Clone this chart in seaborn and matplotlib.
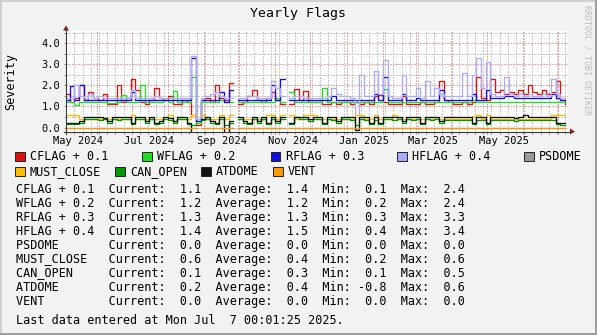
import numpy as np
import pandas as pd
import matplotlib
matplotlib.use("Agg")
import matplotlib.pyplot as plt
import matplotlib.dates as mdates
from matplotlib.ticker import FixedLocator
from matplotlib.patches import Rectangle, Polygon
import seaborn as sns

N = np.nan

# ---- data: one sample every 4 days (NaN = no data) ----
dates = pd.date_range("2024-05-05", periods=108, freq="4D")

cflag = [1.6, 1.2, 1.4, 2.0, 1.3, 1.7, 1.4, 1.3, 1.6, 1.1, 1.1, 2.0,
         1.2, 1.4, 2.3, 1.8, 1.2, 1.1, 1.3, 1.9, 1.4, 1.3, 1.5, 1.1,
         1.1, 1.3, 1.2, 0.6, 0.1, 1.3, 1.4, 1.2, 2.0, 1.4, 1.3, 2.1,
         N, 1.1, 1.2, 1.5, 1.8, 1.3, 1.2, 1.4, 1.7, 1.3, 1.1, N,
         1.1, 1.85, 1.3, 1.75, 1.2, 1.2, 1.2, 1.1, 1.1, 1.2, 1.1, 1.2,
         1.2, 1.1, 1.2, 1.1, 1.2, 1.1, 1.5, 1.55, 1.2, 1.1, 1.1, 1.1,
         1.5, 1.1, 1.1, 1.1, 1.2, 1.1, 1.1, 1.2, 2.2, 1.3, 1.2, 1.1,
         1.1, 1.2, 1.1, 1.2, 2.4, 1.4, 1.3, 2.3, 1.7, 1.8, 1.6, 1.7,
         1.6, 1.8, 1.6, 2.0, 1.7, 1.6, 1.8, 1.6, 1.7, 2.2, 1.3, 1.1]

wflag = [1.2, 1.2, 1.05, 1.2, 1.2, 1.2, 1.2, 1.2, 1.2, 1.15, 1.15, 1.2,
         1.55, 1.2, 1.2, 1.2, 2.0, 1.2, 1.2, 1.2, 1.2, 1.3, 1.2, 1.75,
         1.2, 1.2, 1.2, 2.4, 0.2, 1.2, 1.2, 1.2, 1.2, 1.3, 1.2, 1.2,
         N, 1.2, 1.2, 1.2, 1.2, 1.2, 1.2, 1.2, 1.2, 1.4, 1.2, N,
         1.7, 1.2, 1.2, 1.2, 1.2, 1.2, 1.2, 1.9, 1.2, 1.2, 1.2, 1.2,
         1.2, 1.2, 1.2, 1.2, 1.2, 1.2, 1.2, 1.2, 1.85, 1.2, 1.2, 1.2,
         1.2, 1.2, 1.2, 1.2, 1.2, 1.2, 1.2, 1.2, 1.2, 1.2, 1.2, 1.2,
         1.2, 1.2, 1.2, 1.3, 1.2, 1.2, 1.2, 1.2, 1.2, 1.2, 1.2, 1.2,
         1.2, 1.2, 1.2, 1.2, 1.2, 1.2, 1.2, 1.2, 1.2, 1.2, 1.2, 1.2]

rflag = [1.3, 1.95, 1.3, 2.0, 1.3, 1.3, 1.3, 1.3, 1.3, 1.3, 1.3, 1.3,
         1.3, 1.3, 1.7, 1.3, 1.3, 1.3, 1.3, 1.3, 1.3, 1.3, 1.3, 1.3,
         1.3, 1.3, 1.3, 3.3, 0.3, 1.3, 1.3, 1.3, 1.3, 1.7, 1.2, 1.8,
         N, 1.3, 1.3, 1.3, 1.3, 1.3, 1.3, 1.3, 2.0, 1.3, 2.3, N,
         1.3, 1.3, 1.3, 1.3, 1.3, 1.3, 1.3, 1.3, 1.3, 1.5, 1.3, 1.3,
         1.3, 1.3, 1.3, 1.3, 1.3, 1.3, 1.6, 1.3, 2.4, 1.3, 1.3, 1.3,
         1.6, 1.3, 1.3, 1.4, 1.3, 1.3, 1.3, 1.3, 1.8, 1.3, 1.3, 1.3,
         1.3, 1.3, 1.3, 1.6, 1.3, 1.3, 1.8, 1.4, 1.4, 1.4, 1.5, 1.5,
         1.4, 1.4, 1.4, 1.4, 1.4, 1.4, 1.4, 1.4, 1.6, 1.4, 1.3, 1.3]

hflag = [1.4, 1.4, 2.0, 1.5, 1.4, 1.6, 1.4, 1.5, 1.4, 1.4, 1.4, 1.4,
         1.4, 1.4, 1.8, 1.4, 1.4, 1.4, 1.4, 1.5, 1.4, 1.4, 1.4, 1.4,
         1.4, 1.4, 1.4, 3.4, 0.4, 1.4, 1.5, 1.6, 1.7, 1.5, 1.4, 1.4,
         N, 1.4, 1.4, 1.5, 1.5, 1.4, 1.4, 1.4, 2.2, 1.9, 1.5, N,
         1.4, 1.5, 1.5, 1.4, 1.4, 1.4, 1.4, 1.4, 1.5, 1.9, 1.6, 1.5,
         1.5, 1.4, 0.6, 2.5, 1.5, 1.5, 2.7, 1.6, 3.2, 1.5, 1.4, 1.4,
         2.5, 1.5, 1.5, 1.9, 1.4, 2.2, 1.5, 1.9, 1.6, 1.5, 1.5, 1.5,
         1.5, 2.6, 1.5, 2.5, 3.3, 1.9, 3.1, 1.6, 1.5, 1.5, 2.4, 1.6,
         1.5, 1.6, 1.5, 1.6, 1.5, 1.5, 1.6, 1.5, 2.3, 1.6, 1.4, 1.4]

psdome = [0.0, 0.0, 0.0, 0.0, 0.0, 0.0, 0.0, 0.0, 0.0, 0.0, 0.0, 0.0,
          0.0, 0.0, 0.0, 0.0, 0.0, 0.0, 0.0, 0.0, 0.0, 0.0, 0.0, 0.0,
          0.0, 0.0, 0.0, 0.0, N, 0.0, 0.0, 0.0, 0.0, 0.0, 0.0, 0.0,
          N, 0.0, 0.0, 0.0, 0.0, 0.0, 0.0, 0.0, 0.0, 0.0, 0.0, N,
          0.0, 0.0, 0.0, 0.0, 0.0, 0.0, 0.0, 0.0, 0.0, 0.0, 0.0, 0.0,
          0.0, 0.0, 0.0, 0.0, 0.0, 0.0, 0.0, 0.0, 0.0, 0.0, 0.0, 0.0,
          0.0, 0.0, 0.0, 0.0, 0.0, 0.0, 0.0, 0.0, 0.0, 0.0, 0.0, 0.0,
          0.0, 0.0, 0.0, 0.0, 0.0, 0.0, 0.0, 0.0, 0.0, 0.0, 0.0, 0.0,
          0.0, 0.0, 0.0, 0.0, 0.0, 0.0, 0.0, 0.0, 0.0, 0.0, 0.0, 0.0]

must_close = [0.6, 0.6, 0.6, 0.4, 0.4, 0.4, 0.4, 0.4, 0.4, 0.4, 0.4, 0.4,
              0.4, 0.4, 0.6, 0.4, 0.4, 0.4, 0.4, 0.4, 0.4, 0.4, 0.6, 0.2,
              0.4, 0.4, 0.4, 0.6, N, 0.6, 0.4, 0.4, 0.4, 0.6, 0.4, 0.6,
              N, 0.4, 0.4, 0.4, 0.4, 0.4, 0.4, 0.6, 0.6, 0.4, 0.6, N,
              0.6, 0.4, 0.4, 0.6, 0.6, 0.6, 0.4, 0.4, 0.4, 0.4, 0.4, 0.4,
              0.4, 0.4, 0.6, 0.6, 0.4, 0.4, 0.6, 0.4, 0.4, 0.4, 0.6, 0.4,
              0.4, 0.4, 0.4, 0.4, 0.4, 0.4, 0.4, 0.4, 0.4, 0.4, 0.4, 0.4,
              0.4, 0.4, 0.4, 0.55, 0.6, 0.4, 0.6, 0.4, 0.4, 0.4, 0.4, 0.4,
              0.4, 0.4, 0.4, 0.4, 0.4, 0.4, 0.4, 0.4, 0.6, 0.6, 0.6, 0.6]

can_open = [0.15, 0.15, 0.15, 0.2, 0.4, 0.4, 0.4, 0.35, 0.4, 0.2, 0.4, 0.35,
            0.4, 0.4, 0.15, 0.4, 0.4, 0.2, 0.4, 0.15, 0.2, 0.4, 0.35, 0.2,
            0.4, 0.4, 0.15, 0.1, N, 0.35, 0.4, 0.2, 0.15, 0.4, 0.1, 0.2,
            N, 0.4, 0.2, 0.15, 0.4, 0.2, 0.4, 0.15, 0.4, 0.2, 0.4, N,
            0.15, 0.5, 0.4, 0.4, 0.3, 0.4, 0.4, 0.15, 0.4, 0.35, 0.2, 0.4,
            0.4, 0.35, 0.1, 0.4, 0.35, 0.15, 0.35, 0.15, 0.4, 0.4, 0.35, 0.4,
            0.2, 0.4, 0.35, 0.4, 0.15, 0.4, 0.35, 0.4, 0.2, 0.35, 0.35, 0.35,
            0.35, 0.35, 0.35, 0.15, 0.35, 0.35, 0.15, 0.35, 0.35, 0.35, 0.35, 0.35,
            0.3, 0.35, 0.35, 0.35, 0.35, 0.35, 0.35, 0.35, 0.35, 0.15, 0.1, 0.1]

atdome = [0.2, 0.2, 0.2, 0.3, 0.5, 0.5, 0.5, 0.5, 0.45, 0.3, 0.5, 0.5,
          0.5, 0.5, 0.2, 0.5, 0.5, 0.3, 0.5, 0.2, 0.3, 0.5, 0.45, 0.3,
          0.5, 0.5, 0.2, -0.8, N, 0.4, 0.5, 0.3, 0.2, 0.5, -0.3, 0.3,
          N, 0.5, 0.3, 0.2, 0.5, 0.3, 0.5, 0.2, 0.5, 0.3, 0.5, N,
          0.2, 0.5, 0.5, 0.5, 0.4, 0.5, 0.5, 0.2, 0.5, 0.5, 0.3, 0.5,
          0.5, 0.5, -0.1, 0.5, 0.5, 0.2, 0.5, 0.2, 0.5, 0.5, 0.5, 0.5,
          0.3, 0.5, 0.5, 0.5, 0.2, 0.5, 0.5, 0.5, 0.3, 0.5, 0.5, 0.5,
          0.5, 0.5, 0.5, 0.2, 0.5, 0.5, 0.2, 0.5, 0.5, 0.5, 0.5, 0.5,
          0.45, 0.5, 0.6, 0.5, 0.5, 0.5, 0.5, 0.5, 0.5, 0.2, 0.2, 0.2]

vent = [0.0, 0.0, 0.0, 0.0, 0.0, 0.0, 0.0, 0.0, 0.0, 0.0, 0.0, 0.0,
        0.0, 0.0, 0.0, 0.0, 0.0, 0.0, 0.0, 0.0, 0.0, 0.0, 0.0, 0.0,
        0.0, 0.0, 0.0, 0.0, N, 0.0, 0.0, 0.0, 0.0, 0.0, 0.0, 0.0,
        N, 0.0, 0.0, 0.0, 0.0, 0.0, 0.0, 0.0, 0.0, 0.0, 0.0, N,
        0.0, 0.0, 0.0, 0.0, 0.0, 0.0, 0.0, 0.0, 0.0, 0.0, 0.0, 0.0,
        0.0, 0.0, 0.0, 0.0, 0.0, 0.0, 0.0, 0.0, 0.0, 0.0, 0.0, 0.0,
        0.0, 0.0, 0.0, 0.0, 0.0, 0.0, 0.0, 0.0, 0.0, 0.0, 0.0, 0.0,
        0.0, 0.0, 0.0, 0.0, 0.0, 0.0, 0.0, 0.0, 0.0, 0.0, 0.0, 0.0,
        0.0, 0.0, 0.0, 0.0, 0.0, 0.0, 0.0, 0.0, 0.0, 0.0, 0.0, 0.0]

labels = ["CFLAG + 0.1", "WFLAG + 0.2", "RFLAG + 0.3", "HFLAG + 0.4", "PSDOME",
          "MUST_CLOSE", "CAN_OPEN", "ATDOME", "VENT"]
values = [cflag, wflag, rflag, hflag, psdome, must_close, can_open, atdome, vent]
colors = ["#e01010", "#22dd22", "#1010dd", "#aaaaff", "#999999",
          "#ffbb00", "#009900", "#111111", "#ff9900"]

stat_current = [1.1, 1.2, 1.3, 1.4, 0.0, 0.6, 0.1, 0.2, 0.0]
stat_average = [1.4, 1.2, 1.3, 1.5, 0.0, 0.4, 0.3, 0.4, 0.0]
stat_min = [0.1, 0.2, 0.3, 0.4, 0.0, 0.2, 0.1, -0.8, 0.0]
stat_max = [2.4, 2.4, 3.3, 3.4, 0.0, 0.6, 0.5, 0.6, 0.0]

y_ticks = [0.0, 1.0, 2.0, 3.0, 4.0]
x_labels = ["May 2024", "Jul 2024", "Sep 2024", "Nov 2024", "Jan 2025", "Mar 2025", "May 2025"]
x_label_months = ["2024-05-01", "2024-07-01", "2024-09-01", "2024-11-01",
                  "2025-01-01", "2025-03-01", "2025-05-01"]


def step_segments(vals):
    """Split a series at missing samples; each run keeps its last step up to the gap."""
    rows, seg, prev = [], 0, None
    for d, v in zip(dates, vals):
        if np.isnan(v):
            if prev is not None:
                rows.append((d, prev, seg))
            seg += 1
            prev = None
        else:
            rows.append((d, v, seg))
            prev = v
    return pd.DataFrame(rows, columns=["date", "value", "seg"])


# ---- figure geometry (pixels) ----
W, H, DPI = 597, 335, 100
MONO = "DejaVu Sans Mono"
BACK = "#f2f2f2"
ARROW = "#801f1f"
AXIS = "#3a3a3a"

fig = plt.figure(figsize=(W / DPI, H / DPI), dpi=DPI, facecolor=BACK)

L, R, T, B = 66, 568, 31, 131.5
ZERO, PX_PER_UNIT = 127.5, 21.05
ax = fig.add_axes([L / W, 1 - B / H, (R - L) / W, (B - T) / H])
ax.set_facecolor("white")

for lab, vals, col in zip(labels, values, colors):
    sns.lineplot(data=step_segments(vals), x="date", y="value", units="seg",
                 estimator=None, ax=ax, color=col, lw=0.95,
                 drawstyle="steps-post", legend=False)

ax.set_ylim(-(B - ZERO) / PX_PER_UNIT, (ZERO - T) / PX_PER_UNIT)
ax.set_xlim(pd.Timestamp("2024-05-05 18:00"), pd.Timestamp("2025-07-09 12:00"))
ax.set_xlabel("")
ax.set_ylabel("")

# grid: weekly / monthly verticals, half-unit / unit horizontals
ax.xaxis.set_major_locator(mdates.MonthLocator())
ax.xaxis.set_minor_locator(mdates.WeekdayLocator(byweekday=mdates.MO))
ax.yaxis.set_major_locator(FixedLocator(y_ticks))
ax.yaxis.set_minor_locator(FixedLocator([0.5, 1.5, 2.5, 3.5, 4.5]))
ax.grid(which="minor", color=(0.6, 0.6, 0.6, 0.5), lw=0.72, ls=(0, (1, 2)))
ax.grid(which="major", color=(0.87, 0.31, 0.31, 0.5), lw=0.72, ls=(0, (1, 2)))
ax.set_axisbelow(True)

ax.set_yticklabels([f"{v:.1f}" for v in y_ticks], family=MONO, fontsize=7.5)
ax.tick_params(axis="y", which="both", length=1.5, width=0.7, color="#8f8f8f", pad=2.8)
ax.tick_params(axis="x", which="both", length=1.5, width=0.7, color="#8f8f8f",
               labelbottom=False)
for s in ax.spines.values():
    s.set_visible(False)

for lab, m in zip(x_labels, x_label_months):
    xpos = mdates.date2num(pd.Timestamp(m) + pd.Timedelta(days=15))
    ax.text(xpos, -(141 - B) / (B - T), lab, transform=ax.get_xaxis_transform(),
            ha="center", va="center", family=MONO, fontsize=7.5)

# ---- overlay in pixel coordinates for frame, axes, texts, legend ----
deco = fig.add_axes([0, 0, 1, 1], zorder=5)
deco.set_xlim(0, W)
deco.set_ylim(H, 0)
deco.axis("off")
deco.patch.set_alpha(0)

# outer shaded border
deco.add_patch(Rectangle((0, 0), W, 2, color="#cfcfcf", lw=0))
deco.add_patch(Rectangle((0, 0), 2, H, color="#cfcfcf", lw=0))
deco.add_patch(Rectangle((0, H - 2), W, 2, color="#9e9e9e", lw=0))
deco.add_patch(Rectangle((W - 2, 0), 2, H, color="#9e9e9e", lw=0))

# axis lines with arrows
deco.plot([L, L], [B + 2, T - 1], color=AXIS, lw=0.8)
deco.plot([L - 2, R + 2], [B, B], color=AXIS, lw=0.8)
deco.add_patch(Polygon([[L, T - 5.5], [L - 3, T - 0.5], [L + 3, T - 0.5]],
                       closed=True, color=ARROW, lw=0))
deco.add_patch(Polygon([[R + 7, B], [R + 2, B - 3], [R + 2, B + 3]],
                       closed=True, color=ARROW, lw=0))

# title, vertical label, watermark
deco.text(W / 2, 13.5, "Yearly Flags", ha="center", va="center", family=MONO, fontsize=9.5)
deco.text(11, (T + B) / 2, "Severity", rotation=90, ha="center", va="center",
          family=MONO, fontsize=8.5)
deco.text(587, 60, "RRDTOOL / TOBI OETIKER", rotation=270, ha="center", va="center",
          family=MONO, fontsize=6, color="#bdbdbd")

# legend rows
legend_pos = [(30, 156.7), (157, 156.7), (285.5, 156.7), (412, 156.7), (539, 156.7),
              (30, 171.3), (130, 171.3), (216, 171.3), (288, 171.3)]
for lab, col, (tx, ty) in zip(labels, colors, legend_pos):
    deco.add_patch(Rectangle((tx - 15, ty - 4.8), 9.5, 9.5, facecolor=col,
                             edgecolor="#222222", lw=0.7))
    deco.text(tx, ty, lab, ha="left", va="center", family=MONO, fontsize=8.5)

# statistics block
for k, lab in enumerate(labels):
    line = (f"{lab:<11s}  Current: {stat_current[k]:4.1f}  Average: {stat_average[k]:4.1f}"
            f"  Min: {stat_min[k]:4.1f}  Max: {stat_max[k]:4.1f}")
    deco.text(16, 189.3 + 14 * k, line, ha="left", va="center", family=MONO, fontsize=8.5)

deco.text(16, 321, "Last data entered at Mon Jul  7 00:01:25 2025.", ha="left",
          va="center", family=MONO, fontsize=8.5)

fig.savefig("out.png", dpi=DPI, facecolor=BACK)
